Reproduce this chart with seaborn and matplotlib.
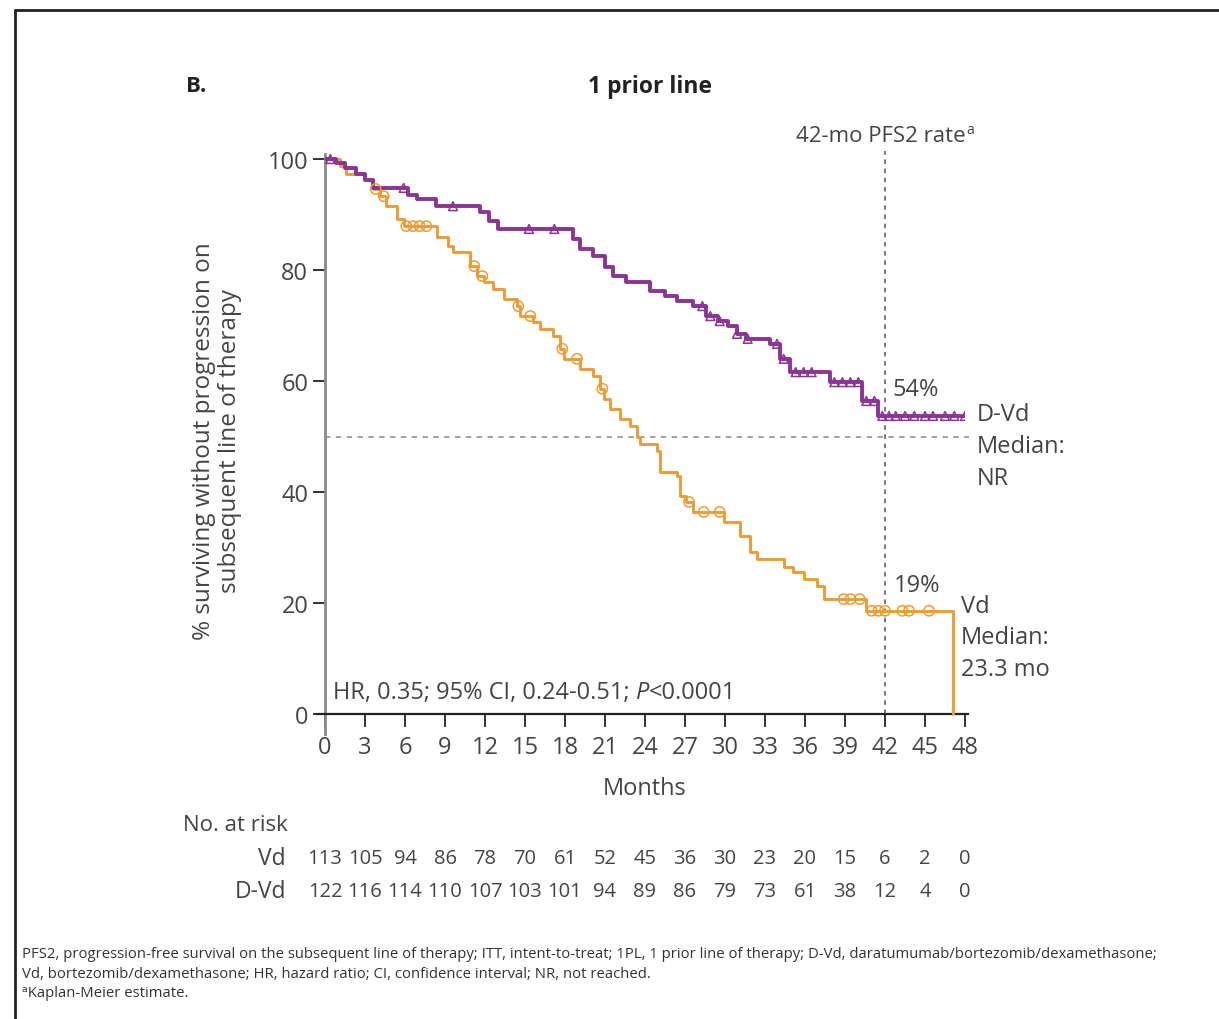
import numpy as np
import pandas as pd
import matplotlib
matplotlib.use("Agg")
import matplotlib.pyplot as plt
from matplotlib.lines import Line2D
import seaborn as sns

# ---------------- data ----------------
dvd_t = [0, 0.8, 1.5, 2.3, 3.0, 3.6, 6.2, 6.9, 8.3, 11.6, 12.3, 13.0, 18.6, 19.1, 20.1, 21.0,
         21.6, 22.6, 24.4, 25.5, 26.4, 27.6, 28.6, 29.5, 30.2, 30.9, 31.6, 33.4, 34.1, 34.9,
         37.9, 40.3, 41.5, 48.0]
dvd_s = [100, 99.3, 98.4, 97.3, 96.2, 94.8, 93.5, 92.8, 91.5, 90.4, 88.9, 87.4, 85.5, 83.8, 82.5, 80.5,
         78.9, 77.8, 76.2, 75.3, 74.4, 73.5, 71.7, 70.8, 69.9, 68.5, 67.6, 66.7, 64.0, 61.6,
         59.8, 56.4, 53.7, 53.7]
dvd_cens = [0.4, 5.9, 9.6, 15.3, 17.2, 28.3, 28.9, 29.6, 30.9, 31.7, 33.9, 34.4, 35.3, 35.9, 36.5,
            38.2, 38.8, 39.4, 40.0, 40.6, 41.2, 41.8, 42.3, 42.8, 43.5, 44.2, 45.0, 45.6, 46.5, 47.2, 48.0]

vd_t = [0, 1.1, 1.6, 2.9, 3.6, 4.1, 4.6, 5.4, 5.9, 8.4, 9.2, 9.6, 10.9, 11.4, 11.9, 12.6, 13.4,
        14.4, 14.6, 15.6, 16.1, 17.1, 17.6, 17.9, 19.1, 20.1, 20.6, 20.9, 21.4, 22.1, 22.9, 23.4,
        23.6, 24.9, 25.1, 26.4, 26.6, 27.1, 27.6, 29.9, 31.1, 31.9, 32.4, 34.4, 35.1, 35.9, 36.9,
        37.4, 40.6, 47.1]
vd_s = [100, 98.7, 97.3, 96.4, 94.6, 93.3, 91.5, 89.2, 87.9, 85.9, 84.3, 83.2, 80.7, 78.9, 77.8, 76.6, 74.8,
        73.5, 71.7, 70.6, 69.4, 68.1, 65.8, 64.0, 62.2, 60.9, 58.6, 56.8, 55.0, 53.2, 51.9, 49.9,
        48.6, 47.4, 43.6, 42.9, 39.3, 38.2, 36.4, 34.6, 32.1, 29.2, 27.9, 26.5, 25.6, 24.3, 23.1,
        20.7, 18.6, 0]
vd_cens = [3.8, 4.4, 6.1, 6.6, 7.1, 7.6, 11.2, 11.8, 14.5, 15.4, 17.8, 18.9, 20.8, 27.3, 28.4, 29.6,
           38.9, 39.4, 40.1, 41.0, 41.5, 42.0, 43.3, 43.8, 45.3]

ticks = list(range(0, 49, 3))
risk_vd = [113, 105, 94, 86, 78, 70, 61, 52, 45, 36, 30, 23, 20, 15, 6, 2, 0]
risk_dvd = [122, 116, 114, 110, 107, 103, 101, 94, 89, 86, 79, 73, 61, 38, 12, 4, 0]

PURPLE = "#8C3396"
ORANGE = "#EE9B35"
TXT = "#444444"

sns.set_theme(style="white")
FONT = ["Open Sans", "DejaVu Sans"]
plt.rcParams["font.family"] = FONT

W, H = 1219, 1020
fig = plt.figure(figsize=(W / 100, H / 100), dpi=100)
renderer = fig.canvas.get_renderer()

def fx(x):
    return x / W

def fy(y):
    return 1 - y / H

# axes: x 0..48 -> px 325..965 ; y 0..100 -> px 715..160
ymin, ymax = -3.6, 100.9
y0px, y100px = 715, 160
ppu = (y0px - y100px) / 100.0
bot_px = y0px + (0 - ymin) * ppu
top_px = y100px - (ymax - 100) * ppu
ax = fig.add_axes([fx(325), fy(bot_px), fx(965) - fx(325), (bot_px - top_px) / H])
ax.set_xlim(0, 48)
ax.set_ylim(ymin, ymax)


def step_val(ts, ss, t):
    idx = np.searchsorted(ts, t, side="right") - 1
    return ss[max(idx, 0)]

df_dvd = pd.DataFrame({"t": dvd_t, "s": dvd_s})
df_vd = pd.DataFrame({"t": vd_t, "s": vd_s})
sns.lineplot(data=df_dvd, x="t", y="s", ax=ax, drawstyle="steps-post", color=PURPLE,
             lw=2.8, estimator=None, sort=False, zorder=4)
sns.lineplot(data=df_vd, x="t", y="s", ax=ax, drawstyle="steps-post", color=ORANGE,
             lw=2.1, estimator=None, sort=False, zorder=3)

cd = pd.DataFrame({"t": dvd_cens, "s": [step_val(dvd_t, dvd_s, t) for t in dvd_cens]})
cv = pd.DataFrame({"t": vd_cens, "s": [step_val(vd_t, vd_s, t) for t in vd_cens]})
sns.scatterplot(data=cv, x="t", y="s", ax=ax, marker="o", s=55, facecolor="none",
                edgecolor=ORANGE, linewidth=1.1, zorder=5)
sns.scatterplot(data=cd, x="t", y="s", ax=ax, marker="^", s=40, facecolor="none",
                edgecolor=PURPLE, linewidth=1.1, zorder=5)

# reference lines
ax.plot([0, 48.3], [50, 50], ls=(0, (3, 3)), color="#9a9a9a", lw=1.3, zorder=1, clip_on=False)
ax.plot([42, 42], [0, 101.5], ls=(0, (3, 3)), color="#555555", lw=1.1, zorder=1, clip_on=False)

# spines
for s in ["top", "right"]:
    ax.spines[s].set_visible(False)
ax.spines["left"].set_color("#8a8a8a")
ax.spines["left"].set_linewidth(2.0)
ax.spines["bottom"].set_position(("data", 0))
ax.spines["bottom"].set_color("#222222")
ax.spines["bottom"].set_linewidth(1.6)
ax.spines["bottom"].set_bounds(-0.6, 48.2)

ax.set_yticks([0, 20, 40, 60, 80, 100])
ax.set_xticks(ticks)
ax.tick_params(axis="both", direction="out", length=9, width=1.4, color="#333333",
               labelsize=17, labelcolor=TXT, pad=3, left=True, bottom=True)
ax.tick_params(axis="x", pad=6)
ax.set_xlabel("")
ax.set_ylabel("")
ax.set_facecolor("none")

# HR annotation (P italic)
def inline(parts, x, y, **kw):
    cur = x
    for txt, style in parts:
        t = ax.text(cur, y, txt, style=style, **kw)
        bb = t.get_window_extent(renderer=renderer)
        cur = ax.transData.inverted().transform((bb.x1, bb.y0))[0]

inline([("HR, 0.35; 95% CI, 0.24-0.51; ", "normal"), ("P", "italic"), ("<0.0001", "normal")],
       0.6, 4.0, fontsize=17, color=TXT, va="center", ha="left")

ax.text(44.3, 58.5, "54%", fontsize=17, color=TXT, ha="center", va="center")
ax.text(44.4, 23.2, "19%", fontsize=17, color=TXT, ha="center", va="center")

for txt, y in [("D-Vd", 415), ("Median:", 447), ("NR", 479)]:
    fig.text(fx(977), fy(y), txt, fontsize=17, color=TXT, ha="left", va="center")
for txt, y in [("Vd", 607), ("Median:", 638), ("23.3 mo", 670)]:
    fig.text(fx(961), fy(y), txt, fontsize=17, color=TXT, ha="left", va="center")

# titles
fig.text(fx(186), fy(87), "B.", fontsize=16, fontweight="bold", color="#222222", ha="left", va="center")
fig.text(fx(650), fy(87), "1 prior line", fontsize=16.5, fontweight="bold", color="#222222",
         ha="center", va="center")
t42 = fig.text(fx(796), fy(136), "42-mo PFS2 rate", fontsize=16, color=TXT, ha="left", va="center")
bb42 = t42.get_window_extent(renderer=renderer)
fig.text(bb42.x1 / W + 0.001, fy(130), "a", fontsize=10, color=TXT, ha="left", va="center")

# axis labels
fig.text(fx(645), fy(789), "Months", fontsize=17, color=TXT, ha="center", va="center")
fig.text(fx(217), fy(441), "% surviving without progression on\nsubsequent line of therapy",
         fontsize=17.5, color=TXT, ha="center", va="center", rotation=90, linespacing=1.1)

# number at risk
fig.text(fx(183), fy(826), "No. at risk", fontsize=16, color=TXT, ha="left", va="center")
fig.text(fx(286), fy(859), "Vd", fontsize=16.5, color=TXT, ha="right", va="center")
fig.text(fx(286), fy(892), "D-Vd", fontsize=16.5, color=TXT, ha="right", va="center")
trans = matplotlib.transforms.blended_transform_factory(ax.transData, fig.transFigure)
for t, a, b in zip(ticks, risk_vd, risk_dvd):
    ax.text(t, fy(859), str(a), transform=trans, fontsize=14.5, color=TXT, ha="center", va="center",
            clip_on=False)
    ax.text(t, fy(892), str(b), transform=trans, fontsize=14.5, color=TXT, ha="center", va="center",
            clip_on=False)

# footnotes (fit first line to reference width)
line1 = ("PFS2, progression-free survival on the subsequent line of therapy; ITT, intent-to-treat; "
         "1PL, 1 prior line of therapy; D-Vd, daratumumab/bortezomib/dexamethasone;")
f1 = fig.text(fx(22), fy(955), line1, fontsize=10, color="#333333", ha="left", va="center")
w1 = f1.get_window_extent(renderer=renderer).width
fn = 10 * (1133 / w1)
f1.set_fontsize(fn)
fig.text(fx(22), fy(974), "Vd, bortezomib/dexamethasone; HR, hazard ratio; CI, confidence interval; NR, not reached.",
         fontsize=fn, color="#333333", ha="left", va="center")
fig.text(fx(22), fy(994), "\u1d43Kaplan-Meier estimate.", fontsize=fn, color="#333333", ha="left", va="center")

# frame
fig.add_artist(Line2D([fx(15), fx(15)], [fy(11), 0], color="#222222", lw=2.0, transform=fig.transFigure))
fig.add_artist(Line2D([fx(15), 1], [fy(11), fy(11)], color="#222222", lw=2.0, transform=fig.transFigure))

fig.savefig("out.png", dpi=100, facecolor="white")
